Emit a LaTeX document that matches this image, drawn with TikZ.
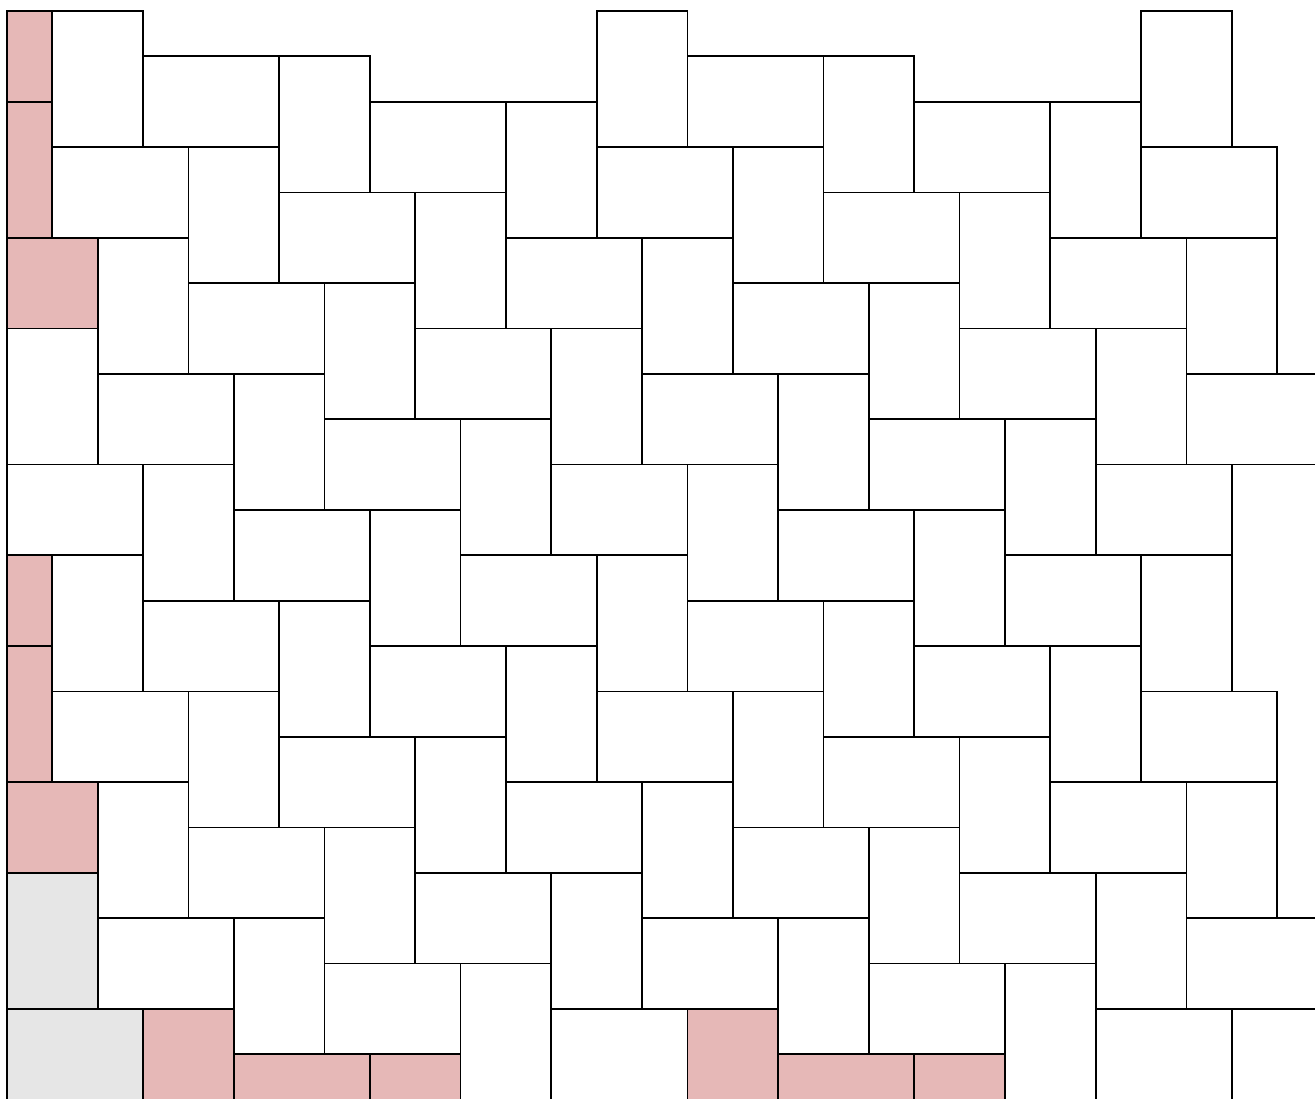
\documentclass[tikz,border=0pt]{standalone}
\definecolor{cutred}{HTML}{E6B8B7}
\definecolor{greyfill}{HTML}{E6E6E6}
\tikzset{
  brick/.style={draw=black, line width=1.1pt, fill=white},
  cutbrick/.style={brick, fill=cutred},
  greybrick/.style={brick, fill=greyfill}
}
\begin{document}
\begin{tikzpicture}[yscale=-1]
\useasboundingbox (-0.1543,-0.2425) rectangle (28.836,23.964);
\clip (-0.1543,-0.2425) rectangle (28.836,23.964);
% whole bricks of the herringbone
\foreach \y in {0,...,23}{
  \foreach \x in {0,...,28}{
    \pgfmathtruncatemacro\v{mod(\x-5*\y-1+144,12)}
    \pgfmathtruncatemacro\h{mod(\x-5*\y+2+144,12)}
    \ifnum\v=0 \ifnum\x<27 \ifnum\y<22
      \draw[brick] (\x,\y) rectangle ++(2,3);
    \fi\fi\fi
    \ifnum\h=0 \ifnum\x<27 \ifnum\y>0 \ifnum\y<23
      \draw[brick] (\x,\y) rectangle ++(3,2);
    \fi\fi\fi\fi
  }
}
% grey bricks
\draw[greybrick] (0,19) rectangle ++(2,3);
\draw[greybrick] (0,22) rectangle ++(3,2.2);
% cut bricks at the left edge
\foreach \dy in {0,12}{
  \draw[cutbrick] (0,0+\dy) rectangle (1,2+\dy);
  \draw[cutbrick] (0,2+\dy) rectangle (1,5+\dy);
  \draw[cutbrick] (0,5+\dy) rectangle (2,7+\dy);
}
% cut bricks at the bottom edge
\foreach \dx in {0,12}{
  \draw[cutbrick] (3+\dx,22) rectangle (5+\dx,24.2);
  \draw[cutbrick] (5+\dx,23) rectangle (8+\dx,24.2);
  \draw[cutbrick] (8+\dx,23) rectangle (10+\dx,24.2);
}
\end{tikzpicture}
\end{document}
